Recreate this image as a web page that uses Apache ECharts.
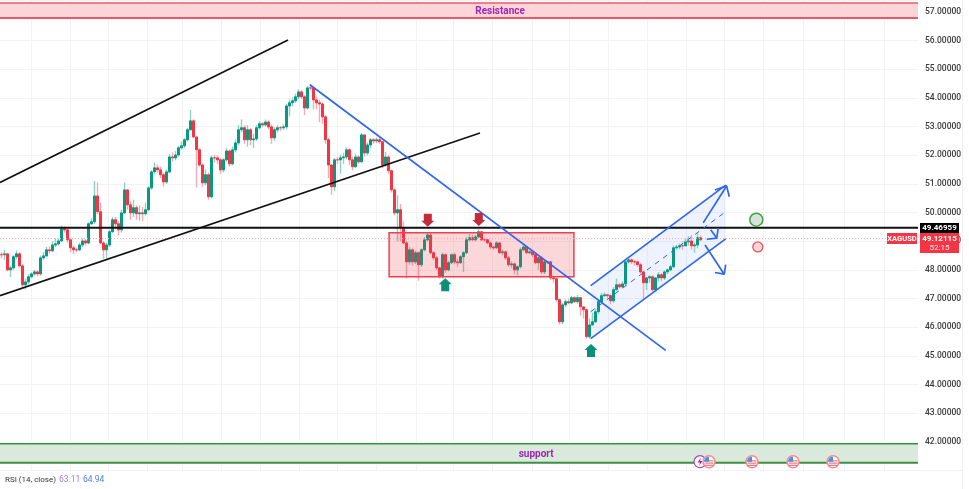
<!DOCTYPE html>
<html><head><meta charset="utf-8">
<style>html,body{margin:0;padding:0;background:#fff}#c{width:969px;height:489px}</style>
<script src="https://cdn.jsdelivr.net/npm/echarts@6/dist/echarts.min.js"></script>
</head><body><div id="c"></div>
<script>
const closes=[48.53,48.56,48.00,48.07,48.46,48.56,48.14,47.48,47.58,47.76,
47.86,47.93,47.86,48.42,48.49,48.70,48.67,48.87,48.91,49.01,
49.43,49.40,49.05,48.77,48.70,48.70,48.87,49.01,48.94,49.61,
49.68,50.58,50.03,48.94,48.70,48.87,49.33,49.75,49.61,49.40,
49.99,50.79,50.27,49.99,50.17,49.96,49.99,49.96,50.10,50.86,
51.42,51.56,51.49,51.32,51.07,51.42,51.94,51.91,52.01,52.26,
52.33,52.54,52.89,53.20,52.64,52.19,51.66,51.04,51.32,50.55,
51.91,51.91,51.84,51.49,51.84,52.15,51.70,52.19,52.43,52.89,
52.96,52.54,52.89,52.54,52.57,52.96,53.10,53.06,53.16,52.99,
52.61,52.89,52.96,52.96,52.99,53.72,53.83,53.90,54.04,54.21,
54.04,53.65,54.35,54.35,53.93,53.83,53.79,53.34,52.54,51.66,
50.90,51.84,51.84,51.91,51.94,52.19,51.84,51.60,51.94,51.77,
52.71,52.08,52.36,52.54,52.50,52.54,52.47,51.66,51.94,51.46,
50.79,49.99,50.10,49.47,48.94,48.28,48.70,48.28,48.60,48.18,
48.70,49.05,49.22,48.60,48.42,48.07,47.76,48.53,48.00,48.25,
48.53,48.28,48.25,48.46,48.60,49.05,49.12,49.05,49.15,49.33,
49.05,49.05,48.94,48.80,48.77,48.94,48.60,48.63,48.42,48.18,
48.21,48.00,48.11,48.70,48.80,48.60,48.63,48.53,48.25,48.42,
47.93,48.28,48.28,47.72,47.69,46.96,46.19,46.78,46.89,46.85,
47.03,46.89,47.03,46.71,46.61,45.67,46.08,46.19,46.54,46.89,
47.10,47.13,47.10,46.92,47.31,47.48,47.41,47.51,48.28,48.35,
48.28,48.28,48.18,47.93,47.55,47.72,47.76,47.31,47.72,47.83,
47.72,47.93,48.00,48.11,48.77,48.80,48.84,48.84,48.98,49.01,
48.84,48.87,49.12,49.05];
const highs=[48.62,48.70,48.60,48.15,48.52,48.68,48.62,48.20,47.70,47.85,
47.92,48.00,47.98,48.50,48.62,48.80,48.82,49.00,49.10,49.10,
49.55,49.52,49.42,49.10,48.85,48.78,48.95,49.10,49.08,49.66,
49.80,51.10,51.05,50.35,49.00,48.95,49.40,49.85,49.85,49.70,
50.10,51.05,50.82,50.40,50.45,50.25,50.25,50.20,50.35,50.92,
51.48,51.75,51.68,51.60,51.40,51.50,52.05,52.10,52.15,52.32,
52.48,52.60,52.95,53.58,53.25,52.43,52.25,51.70,51.50,51.40,
52.00,52.02,52.00,51.90,51.90,52.25,52.20,52.30,52.55,53.05,
53.25,53.05,53.05,52.95,52.75,53.05,53.18,53.15,53.25,53.22,
53.08,52.98,53.05,53.02,53.08,53.80,53.95,54.02,54.15,54.30,
54.28,54.10,54.42,54.48,54.38,54.05,53.95,53.85,53.40,52.60,
51.70,51.90,51.95,52.02,52.08,52.28,52.25,51.95,52.05,52.00,
52.78,52.72,52.45,52.60,52.60,52.62,52.62,52.50,52.12,52.00,
51.50,50.85,50.60,50.30,49.70,49.00,48.80,48.75,48.68,48.65,
48.75,49.15,49.30,49.28,48.65,48.48,48.10,48.60,48.58,48.32,
48.58,48.60,48.40,48.52,48.65,49.15,49.25,49.22,49.22,49.42,
49.35,49.10,49.08,48.98,48.85,49.00,48.98,48.72,48.68,48.48,
48.30,48.25,48.15,48.78,48.90,48.85,48.68,48.70,48.58,48.45,
48.48,48.35,48.32,48.30,47.78,47.72,47.00,46.85,46.98,47.00,
47.10,47.08,47.12,47.05,46.72,46.65,46.30,46.50,46.65,46.98,
47.20,47.22,47.18,47.15,47.40,47.70,47.55,47.60,48.35,48.42,
48.40,48.35,48.32,48.25,47.98,47.75,47.82,47.82,47.75,47.92,
47.90,47.98,48.05,48.18,48.85,48.88,48.92,49.00,49.10,49.18,
49.22,48.95,49.28,49.20];
const lows=[48.40,48.35,47.95,47.75,48.00,48.38,48.08,47.40,47.32,47.50,
47.72,47.80,47.78,47.80,48.35,48.45,48.58,48.62,48.80,48.85,
48.98,49.30,48.95,48.60,48.55,48.62,48.65,48.80,48.85,48.90,
49.58,49.60,49.95,48.90,48.38,48.40,48.80,49.30,49.50,49.20,
49.30,49.95,50.10,49.75,49.85,49.75,49.72,49.70,49.90,50.05,
50.80,51.35,51.38,51.20,50.90,51.00,51.38,51.78,51.82,51.95,
52.20,52.25,52.48,52.85,52.60,50.88,51.60,50.90,50.95,50.45,
50.50,51.75,51.70,51.35,51.40,51.78,51.60,51.65,52.10,52.35,
52.80,52.40,52.30,52.35,52.25,52.50,52.90,52.98,53.00,52.90,
52.40,52.50,52.80,52.85,52.88,52.90,53.35,53.70,53.82,53.95,
53.95,53.40,53.60,54.25,53.60,53.60,53.15,53.10,52.40,51.20,
50.62,50.75,51.70,51.35,51.70,51.85,51.65,51.48,51.55,51.70,
51.75,51.95,52.00,52.25,52.40,52.42,52.40,51.55,51.60,51.35,
50.70,49.90,49.00,49.00,48.90,47.70,48.18,48.15,48.20,47.62,
48.10,48.65,49.00,48.55,48.35,48.00,47.70,47.70,47.90,47.95,
48.20,48.20,48.10,48.20,47.93,48.55,49.00,49.00,49.00,49.10,
49.00,48.98,48.90,48.72,48.70,48.72,48.55,48.50,48.35,48.10,
48.05,47.85,47.80,48.05,48.65,48.55,48.55,48.45,48.20,48.00,
47.85,47.85,48.20,47.65,47.55,46.90,46.10,46.10,46.70,46.80,
46.80,46.85,46.82,46.40,46.30,45.60,45.60,46.05,46.15,46.45,
46.85,47.05,47.00,46.80,46.85,47.25,47.35,47.35,47.45,48.22,
48.20,48.15,48.10,47.85,47.00,47.30,47.55,47.25,47.25,47.60,
47.60,47.65,47.85,47.95,48.05,48.70,48.72,48.70,48.82,48.85,
48.70,48.60,48.75,49.00];
const yTicks={min:41,max:57.4,step:1};
const barSlots=306;
const gridBars=[10.33,23.33,36,49,60.67,73.67,86.67,99.67,112.33,125.33,138.67,151,164,177.33,189.67,202.67,215.67,228.67,241.33,254.33,267.67,281.33,294.67];
const levelBlack=49.47, levelLast=49.09;
const upperBlack=[[0,51.05],[96,56.02]];
const lowerBlack=[[0,47.10],[160,52.78]];
const downBlue=[[103.3,54.46],[221.9,45.19]];
const channelUpper=[[196.9,47.45],[241.9,50.96]];
const channelLower=[[196.9,45.60],[241.9,49.08]];
const channelMid=[[196.9,46.54],[241.9,50.03]];
const arrowUp=[[234.4,49.64],[242.2,50.93]], arrowUpHead=[[238.3,50.79],[242.2,50.93],[243.1,50.55]];
const arrowDown=[[235,48.87],[241.4,47.85]], arrowDownHead=[[238.3,47.91],[241.4,47.85],[241.9,48.18]];
const arrowSmall=[[236.9,49.40],[238.9,49.11]], arrowSmallHead=[[235.6,49.07],[238.9,49.11],[239.4,49.46]];
const resistanceZone={x:[0,306],y:[57.31,56.79],label:'Resistance',labelBar:166.7};
const supportZone={x:[0,306],y:[41.93,41.27],label:'support',labelBar:178.7};
const redBox={x:[129.7,191.3],y:[49.30,47.76]};
const redArrows=[[142.6,49.73],[159.6,49.76]];
const greenArrows=[[148.4,47.48],[197,45.19]];
const greenDot=[[252.1,49.75]], redDot=[[252.6,48.80]];
const eventX=[709,752,793,833];
const UP='#089981',DOWN='#f23645',BLUE='#2f66ee',FONT='Roboto,"Open Sans",sans-serif';

const categories=Array.from({length:barSlots},(_,i)=>String(i));
const opens=closes.map((c,i)=>i?closes[i-1]:c);
const wicks=closes.map((c,i)=>[opens[i],c,lows[i],highs[i]]);
const bodies=closes.map((c,i)=>[opens[i],c,Math.min(opens[i],c),Math.max(opens[i],c)]);

function lineS(data,color,width,type,z){return {type:'line',xAxisIndex:1,yAxisIndex:0,data,symbol:'none',silent:true,z:z||6,
  lineStyle:{color,width,type:type||'solid'},animation:false};}
function zoneS(zone,fill,stroke,text,bottomW,z){return {type:'custom',xAxisIndex:1,yAxisIndex:0,silent:true,z:z||2,data:[0],
  renderItem:(p,api)=>{const a=api.coord([zone.x[0],zone.y[0]]),b=api.coord([zone.x[1],zone.y[1]]);
    const kids=[{type:'rect',shape:{x:a[0],y:a[1],width:b[0]-a[0],height:b[1]-a[1]},style:{fill}},
      {type:'line',shape:{x1:a[0],y1:a[1],x2:b[0],y2:a[1]},style:{stroke,lineWidth:1.5}},
      {type:'line',shape:{x1:a[0],y1:b[1],x2:b[0],y2:b[1]},style:{stroke,lineWidth:bottomW}}];
    if(zone.label){const c=api.coord([zone.labelBar,(zone.y[0]+zone.y[1])/2]);
      kids.push({type:'text',style:{x:c[0],y:c[1]+1,text:zone.label,fill:text,font:'bold 10px '+FONT,align:'center',verticalAlign:'middle'}});}
    return {type:'group',children:kids};}};}

const series=[
 zoneS(resistanceZone,'#fcd5d9','#ef5865','#9c27b0',2),
 zoneS(supportZone,'#d9e9db','#3d8f42','#9c27b0',2),
 {type:'custom',xAxisIndex:1,yAxisIndex:0,silent:true,z:2,data:[0],renderItem:(p,api)=>{
   const pts=[channelUpper[0],channelUpper[1],channelLower[1],channelLower[0]].map(q=>api.coord(q));
   return {type:'polygon',shape:{points:pts},style:{fill:'rgba(41,98,255,0.08)'}};}},
 {type:'candlestick',name:'wicks',xAxisIndex:0,yAxisIndex:0,data:wicks,barWidth:1,z:3,silent:true,
  itemStyle:{color:'#8fd0c4',color0:'#f9a9b2',borderColor:'#8fd0c4',borderColor0:'#f9a9b2',borderColorDoji:'#f9a9b2',borderWidth:1.4}},
 {type:'candlestick',name:'XAGUSD',xAxisIndex:0,yAxisIndex:0,data:bodies,barWidth:1.7,z:4,silent:true,
  itemStyle:{color:UP,color0:DOWN,borderColor:UP,borderColor0:DOWN,borderColorDoji:DOWN,borderWidth:1}},
 {type:'custom',xAxisIndex:1,yAxisIndex:0,silent:true,z:5,data:[0],renderItem:(p,api)=>{
   const a=api.coord([redBox.x[0],redBox.y[0]]),b=api.coord([redBox.x[1],redBox.y[1]]);
   return {type:'rect',shape:{x:a[0],y:a[1],width:b[0]-a[0],height:b[1]-a[1]},style:{fill:'rgba(242,54,69,0.2)',stroke:'#ee3f50',lineWidth:1.5}};}},
 lineS([[0,levelLast],[306,levelLast]],'#f7a1aa',1,[1,2],5),
 lineS([[0,levelBlack],[306,levelBlack]],'#111',2,'solid',6),
 lineS(upperBlack,'#111',1.6),lineS(lowerBlack,'#111',1.6),
 lineS(downBlue,BLUE,1.7),
 lineS(channelUpper,BLUE,1.7),lineS(channelLower,BLUE,1.7),lineS(channelMid,BLUE,1,[5,5]),
 lineS(arrowUp,BLUE,1.7),lineS(arrowUpHead,BLUE,1.7),
 lineS(arrowDown,BLUE,1.7),lineS(arrowDownHead,BLUE,1.7),
 lineS(arrowSmall,BLUE,1.7),lineS(arrowSmallHead,BLUE,1.7),
 {type:'scatter',xAxisIndex:1,yAxisIndex:0,data:redArrows,symbol:'path://M2.5,0 H10.5 V7 H13 L6.5,13 L0,7 H2.5 Z',symbolSize:[13,13],itemStyle:{color:'#c32a3a',opacity:1},z:7,silent:true},
 {type:'scatter',xAxisIndex:1,yAxisIndex:0,data:greenArrows,symbol:'path://M6.5,0 L13,6 H10.5 V13 H2.5 V6 H0 Z',symbolSize:[13,13],itemStyle:{color:'#0a8f78',opacity:1},z:7,silent:true},
 {type:'scatter',xAxisIndex:1,yAxisIndex:0,data:greenDot,symbolSize:13,itemStyle:{color:'#d5e6d6',borderColor:'#43a047',borderWidth:1.5,opacity:1},z:7,silent:true},
 {type:'scatter',xAxisIndex:1,yAxisIndex:0,data:redDot,symbolSize:10,itemStyle:{color:'#fbd5d8',borderColor:'#f2525f',borderWidth:1.3,opacity:1},z:7,silent:true}
];

const graphics=[
 {type:'line',shape:{x1:962.5,y1:0,x2:962.5,y2:489},style:{stroke:'#eeeff2',lineWidth:1},silent:true},
 {type:'line',shape:{x1:0,y1:470.5,x2:962,y2:470.5},style:{stroke:'#eeeff2',lineWidth:1},silent:true},
 {type:'rect',shape:{x:920,y:223,width:39,height:10},style:{fill:'#000'},z:20},
 {type:'text',x:939.5,y:228,style:{text:'49.46959',fill:'#fff',font:'bold 8px '+FONT,align:'center',verticalAlign:'middle'},z:21},
 {type:'rect',shape:{x:920,y:233,width:39,height:20},style:{fill:'#f23645'},z:20},
 {type:'text',x:939.5,y:239,style:{text:'49.12115',fill:'#fff',font:'bold 8px '+FONT,align:'center',verticalAlign:'middle'},z:21},
 {type:'text',x:939.5,y:248,style:{text:'52:15',fill:'#fde3e5',font:'8px '+FONT,align:'center',verticalAlign:'middle'},z:21},
 {type:'rect',shape:{x:887,y:233,width:30,height:11},style:{fill:'#f23645'},z:20},
 {type:'text',x:902,y:238.7,style:{text:'XAGUSD',fill:'#fff',font:'bold 7.5px '+FONT,align:'center',verticalAlign:'middle'},z:21},
 {type:'text',x:5,y:480,style:{text:'RSI (14, close)',fill:'#333',font:'8px '+FONT,align:'left',verticalAlign:'middle'}},
 {type:'text',x:59,y:480,style:{text:'63.11',fill:'#a47bd6',font:'8.5px '+FONT,align:'left',verticalAlign:'middle'}},
 {type:'text',x:83,y:480,style:{text:'64.94',fill:'#4f80f0',font:'8.5px '+FONT,align:'left',verticalAlign:'middle'}},
 {type:'circle',shape:{cx:700,cy:461.7,r:6},style:{fill:'#fff',stroke:'#ab47bc',lineWidth:1.2},z:22},
 {type:'polygon',shape:{points:[[701,457.5],[697.5,462.5],[700,462.5],[699,466],[702.5,461],[700,461]]},style:{fill:'#9c27b0'},z:22}
];
eventX.forEach(x=>{const y=461.7;
 graphics.push({type:'circle',shape:{cx:x,cy:y,r:6},style:{fill:'#fff',stroke:'#f78a92',lineWidth:1.5},z:23});
 [-0.8,1.4,3.6].forEach(d=>graphics.push({type:'line',shape:{x1:x-4.5,y1:y+d,x2:x+4.5,y2:y+d},style:{stroke:'#ee5a66',lineWidth:1},z:23}));
 graphics.push({type:'sector',shape:{cx:x,cy:y,r:5,r0:0,startAngle:Math.PI,endAngle:Math.PI*1.5},style:{fill:'#4a90e2'},z:24});
});

const chart=echarts.init(document.getElementById('c'),null,{renderer:'canvas'});
chart.setOption({
 animation:false,backgroundColor:'#fff',
 grid:{left:0,top:0.5,width:918,height:470,containLabel:false},
 xAxis:[
  {type:'category',data:categories,boundaryGap:true,axisLine:{show:false},axisTick:{show:false},axisLabel:{show:false},splitLine:{show:false}},
  {type:'value',min:0,max:barSlots,position:'bottom',axisLine:{show:false},axisLabel:{show:false},
   axisTick:{show:false,customValues:gridBars},
   splitLine:{show:true,customValues:gridBars,lineStyle:{color:'#f2f3f5',width:1}}}
 ],
 yAxis:[{type:'value',position:'right',min:yTicks.min,max:yTicks.max,interval:yTicks.step,
  axisLine:{show:false},axisTick:{show:false},
  splitLine:{show:true,lineStyle:{color:'#f2f3f5',width:1}},
  axisLabel:{margin:7,padding:[2,0,0,0],color:'#3a3a3a',fontFamily:FONT,fontWeight:500,fontSize:8.5,showMinLabel:false,showMaxLabel:false,formatter:v=>v.toFixed(5)}}],
 series,graphic:graphics
});
</script></body></html>
